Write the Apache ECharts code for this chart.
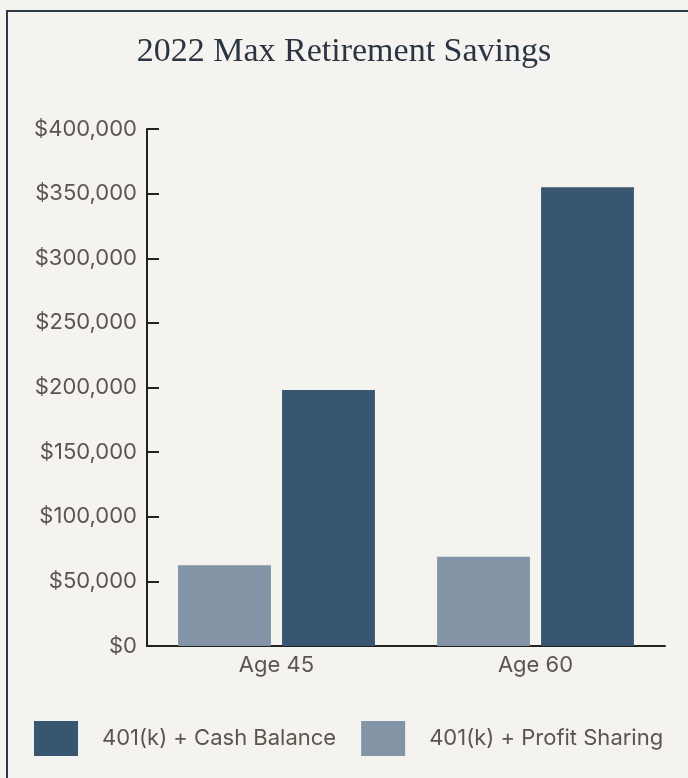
<!DOCTYPE html>
<html><head><meta charset="utf-8">
<script src="https://cdn.jsdelivr.net/npm/echarts@6/dist/echarts.min.js"></script>
<style>
html,body{margin:0;padding:0;background:#f5f3ef;}
#c{position:absolute;left:0;top:0;width:688px;height:778px;}
#b{position:absolute;left:6px;top:10px;width:690px;height:780px;border-left:2px solid #2d3a47;border-top:2px solid #2d3a47;pointer-events:none;}
</style></head>
<body><div id="c"></div><div id="b"></div>
<script>
const categories = ['Age 45', 'Age 60'];
const profitSharing = [62500, 69000];
const cashBalance = [198000, 355000];
const legendNames = ['401(k) + Cash Balance', '401(k) + Profit Sharing'];
const chart = echarts.init(document.getElementById('c'));
const lab = {fontFamily:'Inter', fontSize:22, color:'#5b554d'};
chart.setOption({
  backgroundColor:'#f5f3ef',
  title:{text:'2022 Max Retirement Savings', left:'center', top:30,
    textStyle:{fontFamily:'Liberation Serif', fontWeight:'normal', fontSize:34, color:'#2a3442'}},
  legend:{data:legendNames, left:34, top:721, padding:0, itemWidth:44, itemHeight:35, itemGap:25,
    icon:'rect', textStyle:{fontFamily:'Inter', fontSize:22, color:'#5b554d', padding:[0,0,0,19]}},
  grid:{left:147, right:23, top:129, bottom:132},
  xAxis:{type:'category', data:categories,
    axisLine:{lineStyle:{color:'#222', width:2}},
    axisTick:{inside:true, length:12, lineStyle:{color:'#222', width:2}},
    axisLabel:Object.assign({margin:8}, lab)},
  yAxis:{type:'value', min:0, max:400000, interval:50000,
    splitLine:{show:false},
    axisLine:{show:true, lineStyle:{color:'#222', width:2}},
    axisTick:{show:true, inside:true, length:12, lineStyle:{color:'#222', width:2}},
    axisLabel:Object.assign({margin:10, formatter:v=>'$'+v.toLocaleString('en-US')}, lab)},
  series:[
    {name:legendNames[1], type:'bar', data:profitSharing, itemStyle:{color:'#8394a6'},
     barCategoryGap:'24%', barGap:'12%'},
    {name:legendNames[0], type:'bar', data:cashBalance, itemStyle:{color:'#385670'}}
  ]
});
</script></body></html>
